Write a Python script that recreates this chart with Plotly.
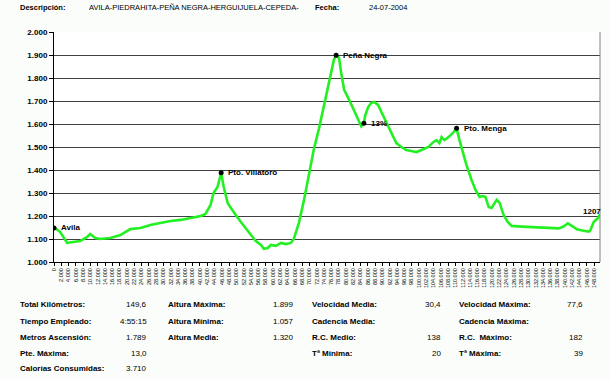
import plotly.graph_objects as go

# ---- data ----
km = [0.0, 0.3, 1.7, 3.3, 3.6, 5.2, 7.2, 9.1, 9.9, 11.3, 12.7, 15.4, 18.2, 20.9, 23.7, 26.4,
      29.2, 31.9, 34.7, 37.4, 40.2, 41.5, 42.9, 43.7, 44.8, 45.8, 46.5, 47.6, 48.4, 49.8,
      51.2, 52.5, 53.9, 55.3, 56.7, 57.5, 58.6, 59.4, 60.8, 62.2, 63.5, 64.9, 65.7, 67.1,
      68.5, 69.9, 71.2, 72.6, 74.0, 75.4, 76.7, 77.3, 78.1, 78.7, 79.5, 80.9, 82.2, 83.6,
      84.2, 84.9, 85.3, 86.1, 86.9, 87.7, 88.8, 89.7, 91.0, 92.4, 93.8, 95.2, 96.5, 97.9,
      99.3, 100.7, 102.6, 104.0, 104.8, 105.6, 106.2, 107.0, 108.1, 109.5, 110.3, 111.1,
      111.7, 113.0, 114.4, 115.5, 116.6, 117.4, 118.2, 119.1, 119.9, 120.7, 121.3, 122.1,
      123.2, 124.3, 125.4, 128.2, 133.7, 138.3, 139.6, 140.8, 141.9, 143.3, 145.1, 146.5,
      146.9, 147.9, 149.0, 149.6]
altitud = [1148, 1148, 1130, 1087, 1083, 1087, 1091, 1109, 1122, 1104, 1100, 1104, 1117, 1143, 1148, 1161,
           1170, 1178, 1183, 1191, 1200, 1209, 1248, 1300, 1326, 1388, 1326, 1256, 1235, 1204,
           1174, 1148, 1117, 1091, 1074, 1057, 1061, 1074, 1070, 1083, 1078, 1083, 1100, 1170,
           1270, 1390, 1490, 1580, 1680, 1780, 1880, 1899, 1887, 1822, 1748, 1704, 1661, 1617,
           1590, 1603, 1639, 1674, 1691, 1696, 1683, 1652, 1609, 1561, 1517, 1500, 1487, 1483,
           1478, 1487, 1500, 1522, 1530, 1517, 1543, 1530, 1543, 1565, 1581, 1530,
           1496, 1422, 1357, 1313, 1283, 1287, 1283, 1239, 1235, 1257, 1270, 1257,
           1204, 1174, 1157, 1154, 1151, 1146, 1154, 1168, 1157, 1142, 1136, 1132,
           1136, 1175, 1190, 1207]

puntos_nombre = ["Avila", "Pto. Villatoro", "Peña Negra", "13%", "Pto. Menga"]
puntos_km = [0.0, 45.8, 77.3, 84.9, 110.3]
puntos_alt = [1148, 1388, 1899, 1603, 1581]

x_tick_km = list(range(0, 150, 2))
x_tick_text = ["0"] + [f"{k*1000:,}".replace(",", ".") for k in x_tick_km[1:]]
y_tick_vals = list(range(1000, 2001, 100))
y_tick_text = [f"{v:,}".replace(",", ".") for v in y_tick_vals]

header = [("Descripción:", 18, True), ("AVILA-PIEDRAHITA-PEÑA NEGRA-HERGUIJUELA-CEPEDA-", 87, False),
          ("Fecha:", 313, True), ("24-07-2004", 367, False)]

stats_labels = [
    ["Total Kilómetros:", "Tiempo Empleado:", "Metros Ascensión:", "Pte. Máxima:", "Calorías Consumidas:"],
    ["Altura Máxima:", "Altura Mínima:", "Altura Media:"],
    ["Velocidad Media:", "Cadencia Media:", "R.C. Medio:", "Tª Mínima:"],
    ["Velocidad Máxima:", "Cadencia Máxima:", "R.C.  Máximo:", "Tª Máxima:"],
]
stats_values = [
    ["149,6", "4:55:15", "1.789", "13,0", "3.710"],
    ["1.899", "1.057", "1.320"],
    ["30,4", "", "138", "20"],
    ["77,6", "", "182", "39"],
]

# ---- layout geometry (pixels) ----
W, H = 610, 380
L, R, T, B = 54, 600, 32, 262
FONT = "Arial"

def px(x):
    return (x - L) / (R - L)

def py(y):
    return (B - y) / (B - T)

fig = go.Figure()
fig.add_trace(go.Scatter(x=km, y=altitud, mode="lines",
                         line=dict(color="#22F022", width=2.6), hoverinfo="skip"))
fig.add_trace(go.Scatter(x=puntos_km, y=puntos_alt, mode="markers",
                         marker=dict(color="black", size=5), hoverinfo="skip"))

ann = []
for name, xk, ya in zip(puntos_nombre, puntos_km, puntos_alt):
    ann.append(dict(x=xk, y=ya, xref="x", yref="y", text=name, showarrow=False,
                    xanchor="left", yanchor="middle", xshift=5,
                    font=dict(family=FONT, size=8, color="black", weight="bold")))
ann.append(dict(x=km[-1], y=altitud[-1], xref="x", yref="y", text="1207", showarrow=False,
                xanchor="right", yanchor="middle", xshift=3, yshift=3,
                font=dict(family=FONT, size=8, color="black", weight="bold")))

for text, x, bold in header:
    ann.append(dict(x=px(x), y=py(8), xref="paper", yref="paper", text=text, showarrow=False,
                    xanchor="left", yanchor="middle",
                    font=dict(family=FONT, size=7.5, color="black",
                              weight="bold" if bold else "normal")))

col_label_x = [18, 166, 310, 457]
col_value_x = [149, 296, 443, 585]
row_y = [304, 321, 337, 353, 368]
for c in range(4):
    for r, (lab, val) in enumerate(zip(stats_labels[c], stats_values[c])):
        ann.append(dict(x=px(col_label_x[c]), y=py(row_y[r]), xref="paper", yref="paper",
                        text=lab, showarrow=False, xanchor="left", yanchor="middle",
                        font=dict(family=FONT, size=8, color="black", weight="bold")))
        if val:
            ann.append(dict(x=px(col_value_x[c]), y=py(row_y[r]), xref="paper", yref="paper",
                            text=val, showarrow=False, xanchor="right", yanchor="middle",
                            font=dict(family=FONT, size=8, color="black")))

fig.update_layout(
    width=W, height=H,
    margin=dict(l=L, r=W - R, t=T, b=H - B, autoexpand=False),
    paper_bgcolor="#FAFDFA", plot_bgcolor="#FFFFFF",
    showlegend=False,
    annotations=ann,
    shapes=[dict(type="line", xref="x domain", yref="y domain", x0=1, x1=1, y0=0, y1=1,
                 line=dict(color="#808080", width=1))],
)
fig.update_xaxes(range=[0, 149.6], tickvals=x_tick_km, ticktext=x_tick_text, tickangle=-90,
                 tickfont=dict(family=FONT, size=5.5, color="black"), automargin=False,
                 ticks="outside", ticklen=3, tickcolor="black", showgrid=False,
                 showline=True, linecolor="black", linewidth=1, zeroline=False)
fig.update_yaxes(range=[1000, 2000], tickvals=y_tick_vals, ticktext=y_tick_text,
                 tickfont=dict(family=FONT, size=8, color="black", weight="bold"),
                 automargin=False,
                 ticks="outside", ticklen=4, tickcolor="black",
                 showgrid=True, gridcolor="#404040", gridwidth=1,
                 showline=True, linecolor="black", linewidth=1, zeroline=False)

fig.write_html("out.html", config={"displayModeBar": False},
               post_script="document.body.style.margin='0';document.body.style.background='#FAFDFA';")
